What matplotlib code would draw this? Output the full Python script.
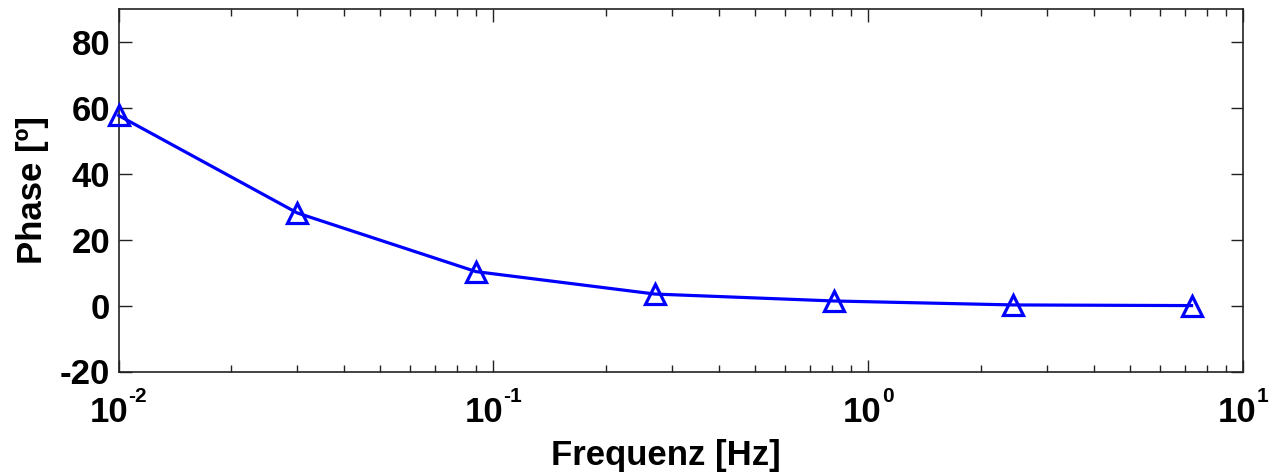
import matplotlib
matplotlib.use("Agg")
import matplotlib.pyplot as plt
from matplotlib.ticker import LogLocator, NullFormatter
from matplotlib.offsetbox import TextArea, HPacker, VPacker, AnnotationBbox, DrawingArea

freq = [0.01, 0.03, 0.09, 0.27, 0.81, 2.43, 7.29]
phase = [57.7, 28.1, 10.3, 3.5, 1.4, 0.2, 0.0]
xtick_vals = [0.01, 0.1, 1, 10]
xtick_exps = ['-2', '-1', '0', '1']
ytick_vals = [-20, 0, 20, 40, 60, 80]

plt.rcParams['font.family'] = ['Liberation Sans', 'DejaVu Sans']
plt.rcParams['font.weight'] = 'bold'

FS = 25

fig = plt.figure(figsize=(12.69, 4.74), dpi=100)
ax = fig.add_axes([118.5/1269, 1-371.5/474, (1243-118.5)/1269, (371.5-9)/474])

ax.plot(freq, phase, color=(0, 0, 1), lw=2.3, marker='^', ms=15,
        mfc='none', mec=(0, 0, 1), mew=2.3, clip_on=False, zorder=3)

ax.set_xscale('log')
ax.set_xlim(0.01, 10)
ax.set_ylim(-20, 90)
ax.set_xticks(xtick_vals)
ax.set_xticklabels([''] * len(xtick_vals))
ax.xaxis.set_minor_locator(LogLocator(base=10, subs=range(2, 10), numticks=20))
ax.xaxis.set_minor_formatter(NullFormatter())
ax.set_yticks(ytick_vals)
ax.set_yticklabels([str(v) for v in ytick_vals], fontsize=FS, fontweight='bold')

# MATLAB-style log tick labels: "10" with small raised exponent
for val, e in zip(xtick_vals, xtick_exps):
    base = TextArea('10', textprops=dict(fontsize=FS, fontweight='bold'))
    exp = TextArea(e, textprops=dict(fontsize=15, fontweight='bold'))
    exp_col = VPacker(children=[exp, DrawingArea(1, 16)], pad=0, sep=0, align='left')
    hp = HPacker(children=[base, exp_col], align='bottom', pad=0, sep=0)
    ab = AnnotationBbox(hp, (val, 0), xycoords=('data', 'axes fraction'),
                        xybox=(0, -16), boxcoords='offset pixels',
                        box_alignment=(0.5, 1), frameon=False, pad=0,
                        annotation_clip=False)
    ax.add_artist(ab)

ax.tick_params(which='both', direction='in', top=True, right=True, width=1, color='#222222')
ax.tick_params(which='major', length=9)
ax.tick_params(which='minor', length=5)
ax.tick_params(axis='y', pad=6)
for s in ax.spines.values():
    s.set_linewidth(1.2)
    s.set_color('#222222')

ax.set_xlabel('Frequenz [Hz]', fontsize=FS, fontweight='bold')
ax.xaxis.set_label_coords(0.487, -0.185)
ax.set_ylabel('Phase [º]', fontsize=FS, fontweight='bold', labelpad=8)

fig.savefig('out.png', dpi=100)
